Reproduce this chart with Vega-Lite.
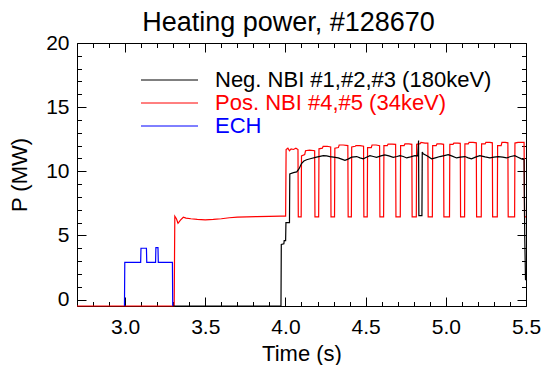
{
  "$schema": "https://vega.github.io/schema/vega-lite/v6.json",
  "width": 449,
  "height": 263,
  "autosize": {"type": "none"},
  "padding": {"left": 77, "top": 43, "right": 20, "bottom": 59},
  "background": "white",
  "config": {"view": {"stroke": null}, "font": "Liberation Sans"},
  "title": {"text": "Heating power, #128670", "font": "Liberation Sans", "fontSize": 27, "fontWeight": "normal", "color": "black", "anchor": "middle", "frame": "group", "offset": -5, "dx": -13},
  "datasets": {
    "d": [
      {"series": "Pos. NBI #4,#5 (34keV)", "t": 2.70, "p": -0.5},
      {"series": "Pos. NBI #4,#5 (34keV)", "t": 3.306, "p": -0.5},
      {"series": "Pos. NBI #4,#5 (34keV)", "t": 3.310, "p": 6.5},
      {"series": "Pos. NBI #4,#5 (34keV)", "t": 3.320, "p": 6.3},
      {"series": "Pos. NBI #4,#5 (34keV)", "t": 3.330, "p": 5.95},
      {"series": "Pos. NBI #4,#5 (34keV)", "t": 3.345, "p": 6.2},
      {"series": "Pos. NBI #4,#5 (34keV)", "t": 3.363, "p": 6.42},
      {"series": "Pos. NBI #4,#5 (34keV)", "t": 3.38, "p": 6.35},
      {"series": "Pos. NBI #4,#5 (34keV)", "t": 3.41, "p": 6.3},
      {"series": "Pos. NBI #4,#5 (34keV)", "t": 3.45, "p": 6.25},
      {"series": "Pos. NBI #4,#5 (34keV)", "t": 3.50, "p": 6.22},
      {"series": "Pos. NBI #4,#5 (34keV)", "t": 3.55, "p": 6.25},
      {"series": "Pos. NBI #4,#5 (34keV)", "t": 3.60, "p": 6.3},
      {"series": "Pos. NBI #4,#5 (34keV)", "t": 3.65, "p": 6.38},
      {"series": "Pos. NBI #4,#5 (34keV)", "t": 3.70, "p": 6.42},
      {"series": "Pos. NBI #4,#5 (34keV)", "t": 3.76, "p": 6.45},
      {"series": "Pos. NBI #4,#5 (34keV)", "t": 3.82, "p": 6.47},
      {"series": "Pos. NBI #4,#5 (34keV)", "t": 3.90, "p": 6.48},
      {"series": "Pos. NBI #4,#5 (34keV)", "t": 3.97, "p": 6.5},
      {"series": "Pos. NBI #4,#5 (34keV)", "t": 4.001, "p": 6.5},
      {"series": "Pos. NBI #4,#5 (34keV)", "t": 4.004, "p": 11.7},
      {"series": "Pos. NBI #4,#5 (34keV)", "t": 4.015, "p": 11.8},
      {"series": "Pos. NBI #4,#5 (34keV)", "t": 4.025, "p": 11.6},
      {"series": "Pos. NBI #4,#5 (34keV)", "t": 4.035, "p": 11.75},
      {"series": "Pos. NBI #4,#5 (34keV)", "t": 4.05, "p": 11.7},
      {"series": "Pos. NBI #4,#5 (34keV)", "t": 4.065, "p": 11.8},
      {"series": "Pos. NBI #4,#5 (34keV)", "t": 4.078, "p": 11.7},
      {"series": "Pos. NBI #4,#5 (34keV)", "t": 4.080, "p": 6.45},
      {"series": "Pos. NBI #4,#5 (34keV)", "t": 4.098, "p": 6.45},
      {"series": "Pos. NBI #4,#5 (34keV)", "t": 4.100, "p": 11.2},
      {"series": "Pos. NBI #4,#5 (34keV)", "t": 4.12, "p": 11.3},
      {"series": "Pos. NBI #4,#5 (34keV)", "t": 4.125, "p": 11.6},
      {"series": "Pos. NBI #4,#5 (34keV)", "t": 4.15, "p": 11.65},
      {"series": "Pos. NBI #4,#5 (34keV)", "t": 4.182, "p": 11.6},
      {"series": "Pos. NBI #4,#5 (34keV)", "t": 4.184, "p": 6.45},
      {"series": "Pos. NBI #4,#5 (34keV)", "t": 4.207, "p": 6.45},
      {"series": "Pos. NBI #4,#5 (34keV)", "t": 4.209, "p": 11.75},
      {"series": "Pos. NBI #4,#5 (34keV)", "t": 4.23, "p": 11.8},
      {"series": "Pos. NBI #4,#5 (34keV)", "t": 4.235, "p": 11.95},
      {"series": "Pos. NBI #4,#5 (34keV)", "t": 4.26, "p": 11.95},
      {"series": "Pos. NBI #4,#5 (34keV)", "t": 4.282, "p": 11.9},
      {"series": "Pos. NBI #4,#5 (34keV)", "t": 4.284, "p": 6.45},
      {"series": "Pos. NBI #4,#5 (34keV)", "t": 4.306, "p": 6.45},
      {"series": "Pos. NBI #4,#5 (34keV)", "t": 4.308, "p": 11.8},
      {"series": "Pos. NBI #4,#5 (34keV)", "t": 4.33, "p": 11.85},
      {"series": "Pos. NBI #4,#5 (34keV)", "t": 4.335, "p": 12.05},
      {"series": "Pos. NBI #4,#5 (34keV)", "t": 4.36, "p": 12.05},
      {"series": "Pos. NBI #4,#5 (34keV)", "t": 4.389, "p": 12.0},
      {"series": "Pos. NBI #4,#5 (34keV)", "t": 4.391, "p": 6.45},
      {"series": "Pos. NBI #4,#5 (34keV)", "t": 4.411, "p": 6.45},
      {"series": "Pos. NBI #4,#5 (34keV)", "t": 4.413, "p": 11.9},
      {"series": "Pos. NBI #4,#5 (34keV)", "t": 4.435, "p": 11.95},
      {"series": "Pos. NBI #4,#5 (34keV)", "t": 4.44, "p": 12.0},
      {"series": "Pos. NBI #4,#5 (34keV)", "t": 4.465, "p": 12.0},
      {"series": "Pos. NBI #4,#5 (34keV)", "t": 4.487, "p": 11.95},
      {"series": "Pos. NBI #4,#5 (34keV)", "t": 4.489, "p": 6.45},
      {"series": "Pos. NBI #4,#5 (34keV)", "t": 4.510, "p": 6.45},
      {"series": "Pos. NBI #4,#5 (34keV)", "t": 4.512, "p": 11.85},
      {"series": "Pos. NBI #4,#5 (34keV)", "t": 4.535, "p": 11.85},
      {"series": "Pos. NBI #4,#5 (34keV)", "t": 4.54, "p": 12.05},
      {"series": "Pos. NBI #4,#5 (34keV)", "t": 4.565, "p": 12.05},
      {"series": "Pos. NBI #4,#5 (34keV)", "t": 4.587, "p": 12.0},
      {"series": "Pos. NBI #4,#5 (34keV)", "t": 4.589, "p": 6.45},
      {"series": "Pos. NBI #4,#5 (34keV)", "t": 4.612, "p": 6.45},
      {"series": "Pos. NBI #4,#5 (34keV)", "t": 4.614, "p": 12.0},
      {"series": "Pos. NBI #4,#5 (34keV)", "t": 4.635, "p": 12.0},
      {"series": "Pos. NBI #4,#5 (34keV)", "t": 4.64, "p": 12.12},
      {"series": "Pos. NBI #4,#5 (34keV)", "t": 4.665, "p": 12.12},
      {"series": "Pos. NBI #4,#5 (34keV)", "t": 4.687, "p": 12.1},
      {"series": "Pos. NBI #4,#5 (34keV)", "t": 4.689, "p": 6.45},
      {"series": "Pos. NBI #4,#5 (34keV)", "t": 4.716, "p": 6.45},
      {"series": "Pos. NBI #4,#5 (34keV)", "t": 4.718, "p": 12.0},
      {"series": "Pos. NBI #4,#5 (34keV)", "t": 4.74, "p": 12.0},
      {"series": "Pos. NBI #4,#5 (34keV)", "t": 4.745, "p": 12.13},
      {"series": "Pos. NBI #4,#5 (34keV)", "t": 4.77, "p": 12.13},
      {"series": "Pos. NBI #4,#5 (34keV)", "t": 4.788, "p": 12.1},
      {"series": "Pos. NBI #4,#5 (34keV)", "t": 4.790, "p": 6.45},
      {"series": "Pos. NBI #4,#5 (34keV)", "t": 4.816, "p": 6.45},
      {"series": "Pos. NBI #4,#5 (34keV)", "t": 4.818, "p": 12.1},
      {"series": "Pos. NBI #4,#5 (34keV)", "t": 4.84, "p": 12.15},
      {"series": "Pos. NBI #4,#5 (34keV)", "t": 4.845, "p": 12.25},
      {"series": "Pos. NBI #4,#5 (34keV)", "t": 4.87, "p": 12.2},
      {"series": "Pos. NBI #4,#5 (34keV)", "t": 4.888, "p": 12.2},
      {"series": "Pos. NBI #4,#5 (34keV)", "t": 4.890, "p": 6.45},
      {"series": "Pos. NBI #4,#5 (34keV)", "t": 4.916, "p": 6.45},
      {"series": "Pos. NBI #4,#5 (34keV)", "t": 4.918, "p": 12.0},
      {"series": "Pos. NBI #4,#5 (34keV)", "t": 4.94, "p": 12.0},
      {"series": "Pos. NBI #4,#5 (34keV)", "t": 4.945, "p": 12.13},
      {"series": "Pos. NBI #4,#5 (34keV)", "t": 4.97, "p": 12.13},
      {"series": "Pos. NBI #4,#5 (34keV)", "t": 4.986, "p": 12.1},
      {"series": "Pos. NBI #4,#5 (34keV)", "t": 4.988, "p": 6.45},
      {"series": "Pos. NBI #4,#5 (34keV)", "t": 5.023, "p": 6.45},
      {"series": "Pos. NBI #4,#5 (34keV)", "t": 5.025, "p": 12.1},
      {"series": "Pos. NBI #4,#5 (34keV)", "t": 5.045, "p": 12.1},
      {"series": "Pos. NBI #4,#5 (34keV)", "t": 5.05, "p": 12.2},
      {"series": "Pos. NBI #4,#5 (34keV)", "t": 5.075, "p": 12.2},
      {"series": "Pos. NBI #4,#5 (34keV)", "t": 5.090, "p": 12.18},
      {"series": "Pos. NBI #4,#5 (34keV)", "t": 5.092, "p": 6.45},
      {"series": "Pos. NBI #4,#5 (34keV)", "t": 5.117, "p": 6.45},
      {"series": "Pos. NBI #4,#5 (34keV)", "t": 5.119, "p": 12.13},
      {"series": "Pos. NBI #4,#5 (34keV)", "t": 5.14, "p": 12.13},
      {"series": "Pos. NBI #4,#5 (34keV)", "t": 5.145, "p": 12.26},
      {"series": "Pos. NBI #4,#5 (34keV)", "t": 5.17, "p": 12.26},
      {"series": "Pos. NBI #4,#5 (34keV)", "t": 5.190, "p": 12.22},
      {"series": "Pos. NBI #4,#5 (34keV)", "t": 5.192, "p": 6.45},
      {"series": "Pos. NBI #4,#5 (34keV)", "t": 5.221, "p": 6.45},
      {"series": "Pos. NBI #4,#5 (34keV)", "t": 5.223, "p": 12.13},
      {"series": "Pos. NBI #4,#5 (34keV)", "t": 5.245, "p": 12.13},
      {"series": "Pos. NBI #4,#5 (34keV)", "t": 5.25, "p": 12.26},
      {"series": "Pos. NBI #4,#5 (34keV)", "t": 5.275, "p": 12.26},
      {"series": "Pos. NBI #4,#5 (34keV)", "t": 5.290, "p": 12.22},
      {"series": "Pos. NBI #4,#5 (34keV)", "t": 5.292, "p": 6.45},
      {"series": "Pos. NBI #4,#5 (34keV)", "t": 5.321, "p": 6.45},
      {"series": "Pos. NBI #4,#5 (34keV)", "t": 5.323, "p": 12.0},
      {"series": "Pos. NBI #4,#5 (34keV)", "t": 5.345, "p": 12.0},
      {"series": "Pos. NBI #4,#5 (34keV)", "t": 5.35, "p": 12.26},
      {"series": "Pos. NBI #4,#5 (34keV)", "t": 5.37, "p": 12.26},
      {"series": "Pos. NBI #4,#5 (34keV)", "t": 5.387, "p": 12.22},
      {"series": "Pos. NBI #4,#5 (34keV)", "t": 5.389, "p": 6.45},
      {"series": "Pos. NBI #4,#5 (34keV)", "t": 5.429, "p": 6.45},
      {"series": "Pos. NBI #4,#5 (34keV)", "t": 5.431, "p": 12.2},
      {"series": "Pos. NBI #4,#5 (34keV)", "t": 5.45, "p": 12.26},
      {"series": "Pos. NBI #4,#5 (34keV)", "t": 5.488, "p": 12.26},
      {"series": "Pos. NBI #4,#5 (34keV)", "t": 5.491, "p": 6.45},
      {"series": "Pos. NBI #4,#5 (34keV)", "t": 5.50, "p": 6.45},

      {"series": "ECH", "t": 2.996, "p": -0.5},
      {"series": "ECH", "t": 2.998, "p": 2.9},
      {"series": "ECH", "t": 3.097, "p": 2.9},
      {"series": "ECH", "t": 3.099, "p": 4.0},
      {"series": "ECH", "t": 3.133, "p": 4.0},
      {"series": "ECH", "t": 3.135, "p": 2.9},
      {"series": "ECH", "t": 3.190, "p": 2.9},
      {"series": "ECH", "t": 3.192, "p": 4.05},
      {"series": "ECH", "t": 3.205, "p": 4.05},
      {"series": "ECH", "t": 3.207, "p": 2.9},
      {"series": "ECH", "t": 3.295, "p": 2.9},
      {"series": "ECH", "t": 3.297, "p": -0.5},

      {"series": "Neg. NBI #1,#2,#3 (180keV)", "t": 3.30, "p": -0.5},
      {"series": "Neg. NBI #1,#2,#3 (180keV)", "t": 3.972, "p": -0.5},
      {"series": "Neg. NBI #1,#2,#3 (180keV)", "t": 3.974, "p": 4.3},
      {"series": "Neg. NBI #1,#2,#3 (180keV)", "t": 3.99, "p": 4.35},
      {"series": "Neg. NBI #1,#2,#3 (180keV)", "t": 3.992, "p": 4.6},
      {"series": "Neg. NBI #1,#2,#3 (180keV)", "t": 4.001, "p": 4.6},
      {"series": "Neg. NBI #1,#2,#3 (180keV)", "t": 4.003, "p": 6.0},
      {"series": "Neg. NBI #1,#2,#3 (180keV)", "t": 4.025, "p": 6.0},
      {"series": "Neg. NBI #1,#2,#3 (180keV)", "t": 4.027, "p": 9.8},
      {"series": "Neg. NBI #1,#2,#3 (180keV)", "t": 4.05, "p": 9.9},
      {"series": "Neg. NBI #1,#2,#3 (180keV)", "t": 4.07, "p": 9.95},
      {"series": "Neg. NBI #1,#2,#3 (180keV)", "t": 4.085, "p": 10.2},
      {"series": "Neg. NBI #1,#2,#3 (180keV)", "t": 4.10, "p": 10.6},
      {"series": "Neg. NBI #1,#2,#3 (180keV)", "t": 4.115, "p": 10.8},
      {"series": "Neg. NBI #1,#2,#3 (180keV)", "t": 4.132, "p": 10.9},
      {"series": "Neg. NBI #1,#2,#3 (180keV)", "t": 4.16, "p": 11.0},
      {"series": "Neg. NBI #1,#2,#3 (180keV)", "t": 4.194, "p": 11.1},
      {"series": "Neg. NBI #1,#2,#3 (180keV)", "t": 4.236, "p": 11.22},
      {"series": "Neg. NBI #1,#2,#3 (180keV)", "t": 4.257, "p": 11.2},
      {"series": "Neg. NBI #1,#2,#3 (180keV)", "t": 4.277, "p": 11.15},
      {"series": "Neg. NBI #1,#2,#3 (180keV)", "t": 4.30, "p": 11.1},
      {"series": "Neg. NBI #1,#2,#3 (180keV)", "t": 4.329, "p": 11.04},
      {"series": "Neg. NBI #1,#2,#3 (180keV)", "t": 4.35, "p": 10.95},
      {"series": "Neg. NBI #1,#2,#3 (180keV)", "t": 4.371, "p": 10.85},
      {"series": "Neg. NBI #1,#2,#3 (180keV)", "t": 4.39, "p": 10.95},
      {"series": "Neg. NBI #1,#2,#3 (180keV)", "t": 4.413, "p": 11.1},
      {"series": "Neg. NBI #1,#2,#3 (180keV)", "t": 4.444, "p": 11.15},
      {"series": "Neg. NBI #1,#2,#3 (180keV)", "t": 4.465, "p": 11.05},
      {"series": "Neg. NBI #1,#2,#3 (180keV)", "t": 4.485, "p": 10.97},
      {"series": "Neg. NBI #1,#2,#3 (180keV)", "t": 4.505, "p": 11.1},
      {"series": "Neg. NBI #1,#2,#3 (180keV)", "t": 4.527, "p": 11.22},
      {"series": "Neg. NBI #1,#2,#3 (180keV)", "t": 4.548, "p": 11.15},
      {"series": "Neg. NBI #1,#2,#3 (180keV)", "t": 4.568, "p": 11.08},
      {"series": "Neg. NBI #1,#2,#3 (180keV)", "t": 4.595, "p": 11.2},
      {"series": "Neg. NBI #1,#2,#3 (180keV)", "t": 4.62, "p": 11.28},
      {"series": "Neg. NBI #1,#2,#3 (180keV)", "t": 4.645, "p": 11.2},
      {"series": "Neg. NBI #1,#2,#3 (180keV)", "t": 4.672, "p": 11.09},
      {"series": "Neg. NBI #1,#2,#3 (180keV)", "t": 4.695, "p": 11.15},
      {"series": "Neg. NBI #1,#2,#3 (180keV)", "t": 4.714, "p": 11.22},
      {"series": "Neg. NBI #1,#2,#3 (180keV)", "t": 4.735, "p": 11.15},
      {"series": "Neg. NBI #1,#2,#3 (180keV)", "t": 4.756, "p": 11.04},
      {"series": "Neg. NBI #1,#2,#3 (180keV)", "t": 4.78, "p": 11.12},
      {"series": "Neg. NBI #1,#2,#3 (180keV)", "t": 4.807, "p": 11.22},
      {"series": "Neg. NBI #1,#2,#3 (180keV)", "t": 4.825, "p": 11.2},
      {"series": "Neg. NBI #1,#2,#3 (180keV)", "t": 4.830, "p": 12.4},
      {"series": "Neg. NBI #1,#2,#3 (180keV)", "t": 4.832, "p": 6.55},
      {"series": "Neg. NBI #1,#2,#3 (180keV)", "t": 4.851, "p": 6.55},
      {"series": "Neg. NBI #1,#2,#3 (180keV)", "t": 4.853, "p": 11.5},
      {"series": "Neg. NBI #1,#2,#3 (180keV)", "t": 4.859, "p": 11.36},
      {"series": "Neg. NBI #1,#2,#3 (180keV)", "t": 4.885, "p": 11.2},
      {"series": "Neg. NBI #1,#2,#3 (180keV)", "t": 4.911, "p": 10.97},
      {"series": "Neg. NBI #1,#2,#3 (180keV)", "t": 4.935, "p": 11.05},
      {"series": "Neg. NBI #1,#2,#3 (180keV)", "t": 4.963, "p": 11.15},
      {"series": "Neg. NBI #1,#2,#3 (180keV)", "t": 4.99, "p": 11.22},
      {"series": "Neg. NBI #1,#2,#3 (180keV)", "t": 5.015, "p": 11.3},
      {"series": "Neg. NBI #1,#2,#3 (180keV)", "t": 5.04, "p": 11.18},
      {"series": "Neg. NBI #1,#2,#3 (180keV)", "t": 5.067, "p": 11.04},
      {"series": "Neg. NBI #1,#2,#3 (180keV)", "t": 5.09, "p": 11.1},
      {"series": "Neg. NBI #1,#2,#3 (180keV)", "t": 5.119, "p": 11.15},
      {"series": "Neg. NBI #1,#2,#3 (180keV)", "t": 5.14, "p": 11.05},
      {"series": "Neg. NBI #1,#2,#3 (180keV)", "t": 5.16, "p": 10.97},
      {"series": "Neg. NBI #1,#2,#3 (180keV)", "t": 5.185, "p": 11.1},
      {"series": "Neg. NBI #1,#2,#3 (180keV)", "t": 5.212, "p": 11.22},
      {"series": "Neg. NBI #1,#2,#3 (180keV)", "t": 5.245, "p": 11.12},
      {"series": "Neg. NBI #1,#2,#3 (180keV)", "t": 5.275, "p": 11.04},
      {"series": "Neg. NBI #1,#2,#3 (180keV)", "t": 5.30, "p": 11.1},
      {"series": "Neg. NBI #1,#2,#3 (180keV)", "t": 5.327, "p": 11.15},
      {"series": "Neg. NBI #1,#2,#3 (180keV)", "t": 5.355, "p": 11.1},
      {"series": "Neg. NBI #1,#2,#3 (180keV)", "t": 5.379, "p": 11.04},
      {"series": "Neg. NBI #1,#2,#3 (180keV)", "t": 5.405, "p": 11.15},
      {"series": "Neg. NBI #1,#2,#3 (180keV)", "t": 5.43, "p": 11.22},
      {"series": "Neg. NBI #1,#2,#3 (180keV)", "t": 5.45, "p": 11.1},
      {"series": "Neg. NBI #1,#2,#3 (180keV)", "t": 5.472, "p": 10.97},
      {"series": "Neg. NBI #1,#2,#3 (180keV)", "t": 5.488, "p": 10.9},
      {"series": "Neg. NBI #1,#2,#3 (180keV)", "t": 5.492, "p": 5.0},
      {"series": "Neg. NBI #1,#2,#3 (180keV)", "t": 5.497, "p": 1.5}
    ]
  },
  "data": {"name": "d"},
  "layer": [
    {
      "mark": {"type": "line", "strokeWidth": 1.2},
      "encoding": {
        "x": {
          "field": "t", "type": "quantitative",
          "scale": {"domain": [2.7, 5.5], "nice": false, "zero": false},
          "axis": {
            "orient": "bottom",
            "values": [2.7, 2.8, 2.9, 3.0, 3.1, 3.2, 3.3, 3.4, 3.5, 3.6, 3.7, 3.8, 3.9, 4.0, 4.1, 4.2, 4.3, 4.4, 4.5, 4.6, 4.7, 4.8, 4.9, 5.0, 5.1, 5.2, 5.3, 5.4, 5.5],
            "labelExpr": "abs(datum.value*2-round(datum.value*2))<0.01 ? format(datum.value,'.1f') : ''",
            "tickSize": {"condition": {"test": "abs(datum.value*2-round(datum.value*2))<0.01", "value": -9}, "value": -4.5},
            "labelFont": "Liberation Sans", "labelFontSize": 21, "labelColor": "black",
            "labelPadding": 19, "labelFlush": false, "labelOverlap": false,
            "title": "Time (s)", "titleFont": "Liberation Sans", "titleFontSize": 22, "titleFontWeight": "normal", "titleColor": "black", "titlePadding": 2,
            "domainColor": "black", "tickColor": "black", "grid": false
          }
        },
        "y": {
          "field": "p", "type": "quantitative",
          "scale": {"domain": [-0.5, 20], "nice": false, "zero": false},
          "axis": {
            "orient": "left",
            "values": [0, 1, 2, 3, 4, 5, 6, 7, 8, 9, 10, 11, 12, 13, 14, 15, 16, 17, 18, 19, 20],
            "labelExpr": "datum.value % 5 == 0 ? format(datum.value,'d') : ''",
            "tickSize": {"condition": {"test": "datum.value % 5 == 0", "value": -9}, "value": -4.5},
            "labelFont": "Liberation Sans", "labelFontSize": 21, "labelColor": "black",
            "labelPadding": 17, "labelFlush": false, "labelOverlap": false,
            "title": "P (MW)", "titleFont": "Liberation Sans", "titleFontSize": 22, "titleFontWeight": "normal", "titleColor": "black", "titlePadding": 14,
            "domainColor": "black", "tickColor": "black", "grid": false
          }
        },
        "stroke": {
          "field": "series", "type": "nominal",
          "scale": {"domain": ["Neg. NBI #1,#2,#3 (180keV)", "Pos. NBI #4,#5 (34keV)", "ECH"], "range": ["#000000", "#ff0000", "#0000ff"]},
          "legend": {
            "title": null, "orient": "none", "legendX": 81.5, "legendY": 26,
            "symbolType": "M-3,0H3", "symbolSize": 361, "symbolStrokeWidth": 1,
            "rowPadding": 1, "labelOffset": 34.5, "padding": 0,
            "labelFont": "Liberation Sans", "labelFontSize": 22, "labelLimit": 400,
            "encode": {
              "labels": {"update": {"fill": {"scale": "stroke", "field": "value"}}}
            }
          }
        }
      }
    },
    {
      "mark": {"type": "line", "opacity": 0},
      "encoding": {
        "x": {
          "field": "t", "type": "quantitative",
          "scale": {"domain": [2.7, 5.5], "nice": false, "zero": false},
          "axis": {
            "orient": "top", "labels": false, "title": null,
            "values": [2.7, 2.8, 2.9, 3.0, 3.1, 3.2, 3.3, 3.4, 3.5, 3.6, 3.7, 3.8, 3.9, 4.0, 4.1, 4.2, 4.3, 4.4, 4.5, 4.6, 4.7, 4.8, 4.9, 5.0, 5.1, 5.2, 5.3, 5.4, 5.5],
            "tickSize": {"condition": {"test": "abs(datum.value*2-round(datum.value*2))<0.01", "value": -9}, "value": -4.5},
            "domainColor": "black", "tickColor": "black", "grid": false
          }
        },
        "y": {
          "field": "p", "type": "quantitative",
          "scale": {"domain": [-0.5, 20], "nice": false, "zero": false},
          "axis": {
            "orient": "right", "labels": false, "title": null,
            "values": [0, 1, 2, 3, 4, 5, 6, 7, 8, 9, 10, 11, 12, 13, 14, 15, 16, 17, 18, 19, 20],
            "tickSize": {"condition": {"test": "datum.value % 5 == 0", "value": -9}, "value": -4.5},
            "domainColor": "black", "tickColor": "black", "grid": false
          }
        }
      }
    }
  ],
  "resolve": {"axis": {"x": "independent", "y": "independent"}}
}
